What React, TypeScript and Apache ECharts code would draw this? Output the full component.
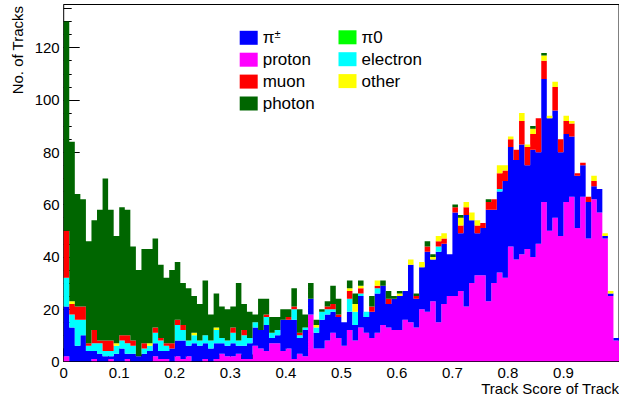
import React, { useEffect, useRef } from "react";
import * as echarts from "echarts";

// Histogram binning: 100 bins of width 0.01 on [0, 1]
const binCount = 100;
const binWidth = 0.01;
const binEdges = Array.from({ length: binCount + 1 }, (_, i) => (i * binWidth).toFixed(2));

// Track counts per bin, one array per true particle type
const proton = [
  2, 0, 0, 0, 0, 1, 0, 0, 1, 0,
  0, 1, 0, 0, 0, 0, 2, 1, 1, 0,
  2, 1, 2, 0, 0, 1, 0, 1, 3, 2,
  2, 3, 1, 1, 6, 5, 4, 7, 7, 4,
  5, 1, 3, 2, 18, 5, 5, 8, 11, 9,
  6, 12, 8, 13, 11, 9, 11, 14, 13, 12,
  12, 16, 15, 13, 20, 19, 23, 15, 22, 25,
  25, 27, 21, 30, 33, 33, 23, 30, 34, 32,
  44, 39, 41, 43, 40, 45, 61, 50, 55, 48,
  61, 63, 51, 63, 47, 62, 57, 47, 25, 8,
];
const pion = [
  19, 13, 6, 10, 4, 3, 3, 2, 1, 3,
  5, 2, 3, 2, 3, 4, 5, 3, 3, 5,
  6, 7, 4, 7, 6, 6, 5, 6, 4, 4,
  5, 3, 5, 6, 7, 7, 10, 2, 3, 12,
  11, 15, 6, 10, 6, 6, 11, 10, 8, 8,
  9, 7, 6, 12, 6, 10, 15, 15, 9, 12,
  13, 11, 22, 11, 16, 23, 16, 27, 23, 16,
  32, 22, 35, 24, 16, 18, 35, 28, 31, 37,
  38, 38, 42, 32, 41, 35, 47, 43, 41, 32,
  26, 23, 20, 12, 14, 5, 9, 1, 1, 1,
];
const electron = [
  11, 5, 10, 6, 2, 3, 4, 2, 2, 3,
  3, 4, 3, 0, 2, 2, 4, 4, 2, 0,
  6, 4, 2, 3, 2, 3, 3, 5, 2, 2,
  4, 2, 4, 2, 2, 0, 3, 2, 2, 0,
  0, 4, 1, 1, 0, 2, 3, 2, 1, 0,
  0, 5, 5, 1, 2, 0, 2, 0, 0, 0,
  0, 0, 0, 0, 0, 0, 0, 2, 0, 0,
  0, 0, 0, 0, 0, 0, 0, 0, 1, 0,
  0, 0, 0, 0, 0, 0, 0, 0, 0, 0,
  0, 0, 0, 0, 0, 0, 0, 0, 0, 0,
];
const muon = [
  18, 4, 5, 5, 1, 5, 1, 4, 4, 0,
  2, 3, 2, 0, 2, 0, 2, 1, 1, 2,
  2, 2, 0, 0, 0, 0, 0, 0, 0, 0,
  2, 0, 2, 0, 0, 0, 1, 0, 0, 0,
  1, 1, 1, 0, 0, 0, 0, 1, 2, 1,
  0, 3, 0, 2, 0, 2, 1, 0, 2, 0,
  0, 0, 0, 1, 0, 2, 0, 2, 2, 0,
  2, 3, 3, 0, 3, 2, 3, 4, 6, 4,
  3, 4, 9, 7, 6, 13, 7, 0, 9, 5,
  5, 5, 1, 1, 2, 2, 0, 0, 0, 0,
];
const other = [
  0, 1, 0, 0, 0, 0, 0, 0, 0, 1,
  0, 0, 0, 0, 0, 1, 0, 0, 0, 0,
  0, 0, 0, 1, 0, 0, 0, 1, 0, 0,
  0, 0, 0, 0, 0, 0, 0, 0, 0, 0,
  0, 0, 0, 0, 0, 1, 0, 0, 0, 0,
  0, 1, 3, 1, 0, 0, 2, 0, 0, 0,
  1, 0, 2, 0, 2, 0, 1, 2, 2, 0,
  0, 3, 2, 3, 2, 0, 0, 0, 3, 2,
  1, 0, 3, 1, 2, 0, 2, 1, 2, 0,
  2, 1, 0, 0, 0, 2, 0, 1, 1, 0,
];
const photon = [
  80, 61, 43, 41, 39, 42, 50, 62, 50, 41,
  49, 48, 36, 33, 36, 36, 34, 28, 25, 28,
  22, 16, 20, 14, 14, 21, 10, 13, 12, 12,
  8, 22, 10, 10, 3, 12, 6, 6, 5, 4,
  3, 7, 9, 5, 6, 2, 1, 2, 7, 6,
  0, 3, 4, 2, 0, 4, 0, 2, 3, 1,
  1, 0, 0, 1, 0, 2, 1, 0, 0, 0,
  1, 1, 0, 0, 0, 0, 1, 0, 0, 0,
  0, 0, 0, 0, 1, 0, 1, 0, 0, 0,
  0, 0, 0, 0, 0, 0, 0, 0, 0, 0,
];
const pi0 = [
  0, 0, 0, 0, 0, 0, 0, 0, 0, 0,
  0, 0, 0, 0, 0, 0, 0, 0, 0, 0,
  0, 0, 0, 0, 0, 0, 0, 0, 0, 0,
  0, 0, 0, 0, 0, 0, 0, 0, 0, 0,
  0, 0, 0, 0, 0, 0, 0, 0, 0, 0,
  0, 0, 0, 0, 0, 0, 0, 0, 0, 0,
  0, 0, 0, 0, 0, 0, 0, 0, 0, 0,
  0, 0, 0, 0, 0, 0, 0, 0, 0, 0,
  0, 0, 0, 0, 0, 0, 0, 0, 0, 0,
  0, 0, 0, 0, 0, 0, 0, 0, 0, 0,
];

// Legend layout: two columns
const legendCol1 = ["π±", "proton", "muon", "photon"];
const legendCol2 = ["π0", "electron", "other"];

// Stack order from bottom to top
const stackOrder = [
  { name: "proton", data: proton, color: "#ff00ff" },
  { name: "π±", data: pion, color: "#0000ff" },
  { name: "electron", data: electron, color: "#00ffff" },
  { name: "muon", data: muon, color: "#ff0000" },
  { name: "other", data: other, color: "#ffff00" },
  { name: "photon", data: photon, color: "#006600" },
  { name: "π0", data: pi0, color: "#00ff00" },
];

const FONT = '"Liberation Sans", Arial, Helvetica, sans-serif';

// Each bin keeps its count from its lower edge up to the next edge (step "end");
// the closing edge at x = 1 repeats the last bin's count.
const toSteps = (counts: number[]) =>
  binEdges.map((_, i) => counts[Math.min(i, counts.length - 1)]);

const colorOf = (name: string) => stackOrder.find((s) => s.name === name)!.color;

export default function App() {
  const ref = useRef<HTMLDivElement>(null);

  useEffect(() => {
    if (!ref.current) return;
    const chart = echarts.init(ref.current, null, { renderer: "svg" });

    const totals = proton.map((_, i) => stackOrder.reduce((s, d) => s + d.data[i], 0));
    const yMax = 1.05 * Math.max(...totals);

    const legendText = (name: string) => (name === "π±" ? "{b|π}{s|±}" : name);
    const legendBase = {
      orient: "vertical",
      itemWidth: 18,
      itemHeight: 14,
      itemGap: 4.9,
      icon: "rect",
      padding: 0,
      selectedMode: false,
      formatter: legendText,
      textStyle: {
        fontSize: 17,
        color: "#000",
        fontFamily: FONT,
        rich: {
          b: { fontSize: 17, fontFamily: FONT, color: "#000" },
          s: { fontSize: 11, fontFamily: FONT, color: "#000", padding: [0, 0, 7, 0] },
        },
      },
    };
    const legendItems = (names: string[]) =>
      names.map((n) => ({ name: n, itemStyle: { color: colorOf(n), borderWidth: 0 } }));

    const option = {
      animation: false,
      backgroundColor: "#ffffff",
      grid: {
        left: 63.7,
        right: -1.5,
        top: 4.5,
        bottom: 36.5,
        show: true,
        borderColor: "#000",
        borderWidth: 1,
        backgroundColor: "transparent",
        containLabel: false,
      },
      legend: [
        { ...legendBase, data: legendItems(legendCol1), left: 239.7, top: 28.8 },
        { ...legendBase, data: legendItems(legendCol2), left: 338.5, top: 28.8 },
      ],
      xAxis: [
        {
          type: "value",
          min: 0,
          max: 1,
          interval: 0.1,
          position: "bottom",
          axisLine: { show: false },
          axisTick: { show: true, inside: true, length: 13, lineStyle: { color: "#000", width: 1 } },
          minorTick: { show: true, splitNumber: 5, length: 7, lineStyle: { color: "#000", width: 1 } },
          splitLine: { show: false },
          minorSplitLine: { show: false },
          axisLabel: {
            margin: 3,
            fontSize: 15,
            color: "#000",
            fontFamily: FONT,
            showMaxLabel: false,
            formatter: (v: number) => String(Math.round(v * 10) / 10),
          },
        },
        {
          // bin edges, evenly spread across the same width as the value axis
          type: "category",
          data: binEdges,
          boundaryGap: false,
          show: false,
        },
      ],
      yAxis: [
        {
          type: "value",
          min: 0,
          max: yMax,
          interval: 5,
          position: "left",
          offset: 0,
          axisLine: { show: false },
          axisTick: { show: true, inside: true, length: 8, lineStyle: { color: "#000", width: 1 } },
          axisLabel: { show: false },
          splitLine: { show: false },
        },
        {
          type: "value",
          min: 0,
          max: yMax,
          interval: 20,
          position: "left",
          offset: 0,
          axisLine: { show: false },
          axisTick: { show: true, inside: true, length: 16, lineStyle: { color: "#000", width: 1 } },
          axisLabel: {
            margin: 4,
            fontSize: 15,
            color: "#000",
            fontFamily: FONT,
            showMaxLabel: false,
          },
          splitLine: { show: false },
        },
      ],
      graphic: [
        {
          type: "text",
          x: 619,
          y: 388,
          style: {
            text: "Track Score of Track",
            font: `15px ${FONT}`,
            fill: "#000",
            textAlign: "right",
            textVerticalAlign: "middle",
          },
        },
        {
          type: "text",
          x: 17,
          y: 6,
          rotation: Math.PI / 2,
          style: {
            text: "No. of Tracks",
            font: `15px ${FONT}`,
            fill: "#000",
            textAlign: "right",
            textVerticalAlign: "middle",
          },
        },
      ],
      series: stackOrder.map((s) => ({
        name: s.name,
        type: "line",
        xAxisIndex: 1,
        yAxisIndex: 0,
        stack: "total",
        step: "end",
        data: toSteps(s.data),
        color: s.color,
        showSymbol: false,
        symbol: "none",
        lineStyle: { width: 0, opacity: 0 },
        areaStyle: { color: s.color, opacity: 1 },
        itemStyle: { color: s.color },
        emphasis: { disabled: true },
        silent: true,
      })),
    };

    chart.setOption(option as any);
    return () => chart.dispose();
  }, []);

  return (
    <div
      ref={ref}
      style={{ position: "fixed", left: 0, top: 0, width: 619, height: 398, background: "#fff" }}
    />
  );
}
